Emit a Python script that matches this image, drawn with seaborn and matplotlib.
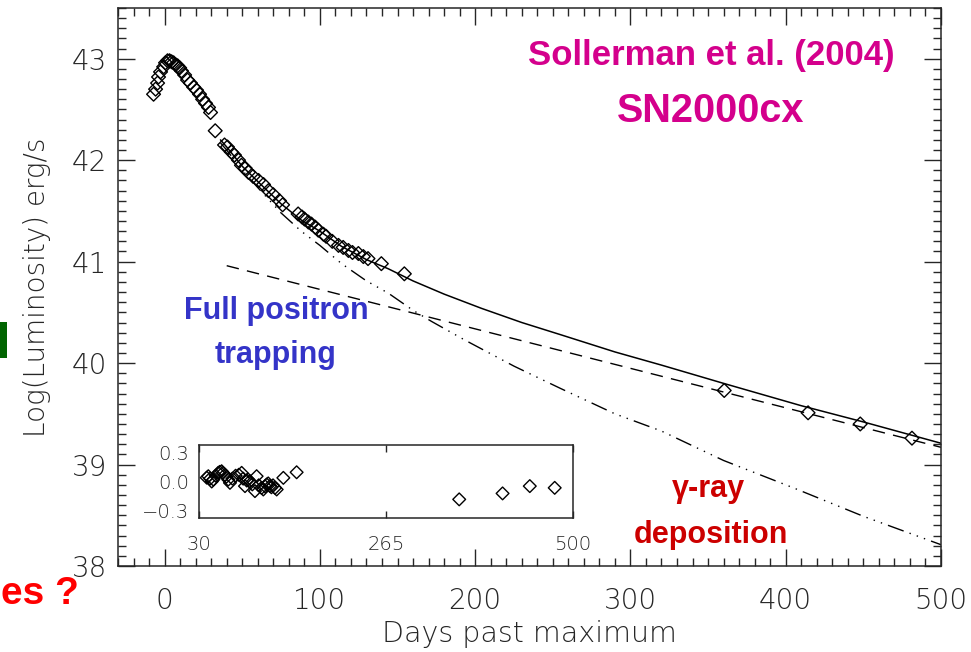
import matplotlib
matplotlib.use("Agg")
import matplotlib.pyplot as plt
from matplotlib.ticker import MultipleLocator
from matplotlib.patches import Rectangle
import seaborn as sns

# ---- SN2000cx bolometric light curve (days past maximum, log L [erg/s]) ----
obs_days = [-7.1, -5.8, -4.5, -3.9, -2.6, -0.6, 0.6, 1.9, 3.2, 4.5, 5.8, 7.1, 8.4,
            9.7, 10.9, 12.9, 14.8, 16.7, 18.7, 20.6, 22.5, 24.5, 26.4, 28.3, 29.6,
            32.6, 38.6, 40.5, 43.0, 45.0, 47.6, 49.5, 52.0, 54.0, 57.0, 60.5, 63.7,
            66.9, 70.0, 74.0, 76.0, 86.0, 88.5, 90.1, 92.6, 94.6, 97.0, 99.0, 102.3,
            104.0, 108.0, 112.0, 115.0, 118.4, 121.0, 124.8, 128.0, 131.0, 139.6,
            154.4, 360.4, 414.4, 448.0, 481.3]
obs_logL = [42.65, 42.70, 42.76, 42.82, 42.87, 42.92, 42.96, 42.98, 42.98, 42.97,
            42.96, 42.94, 42.93, 42.91, 42.88, 42.84, 42.79, 42.76, 42.72, 42.69,
            42.65, 42.60, 42.56, 42.52, 42.47, 42.29, 42.15, 42.13, 42.08, 42.05,
            42.00, 41.95, 41.92, 41.88, 41.84, 41.80, 41.76, 41.70, 41.66, 41.60,
            41.56, 41.47, 41.44, 41.42, 41.39, 41.37, 41.34, 41.31, 41.27, 41.25,
            41.20, 41.16, 41.14, 41.11, 41.09, 41.08, 41.05, 41.03, 40.98, 40.88,
            39.73, 39.51, 39.40, 39.26]

# total model luminosity (solid)
total_days = [36, 40, 50, 60, 75, 88, 100, 114, 130, 144, 160, 180, 204, 230, 255,
              290, 320, 360, 410, 450, 500]
total_logL = [42.20, 42.13, 41.94, 41.79, 41.57, 41.41, 41.30, 41.15, 41.02, 40.93,
              40.81, 40.68, 40.54, 40.40, 40.28, 40.11, 39.98, 39.80, 39.58, 39.42,
              39.21]

# gamma-ray deposition (dash-dot-dot-dot)
gamma_days = [36, 40, 50, 60, 75, 88, 100, 114, 130, 144, 160, 172, 193, 225, 255,
              290, 320, 360, 405, 450, 500]
gamma_logL = [42.17, 42.10, 41.90, 41.73, 41.48, 41.30, 41.16, 40.98, 40.81, 40.69,
              40.52, 40.41, 40.23, 39.97, 39.75, 39.50, 39.33, 39.04, 38.77, 38.49,
              38.21]

# full positron trapping (dashed)
pos_days = [40, 500]
pos_logL = [40.96, 39.17]

# residuals for the inset
res_days = [39.7, 41.7, 44, 46, 48, 51, 54.2, 56, 58.4, 60, 62.6, 64.5, 66.8, 68.9,
            72, 76, 80, 83.6, 85.5, 87.8, 90, 91.9, 94, 97, 100.3, 102.4, 105, 108.7,
            110.8, 113, 115, 117, 119.2, 121, 123, 125.5, 127.6, 136, 152.7, 357,
            411.5, 445.7, 477]
res_vals = [0.04, 0.055, 0.03, 0.0, 0.02, 0.06, 0.09, 0.10, 0.107, 0.09, 0.07, 0.05,
            0.02, -0.014, 0.03, 0.06, 0.07, 0.09, 0.03, -0.048, 0.01, 0.02, 0.003,
            -0.03, -0.10, 0.055, -0.04, -0.066, -0.083, -0.05, -0.031, -0.02, -0.048,
            -0.06, -0.04, -0.066, -0.083, 0.038, 0.096, -0.186, -0.124, -0.048, -0.066]

main_xticks = [0, 100, 200, 300, 400, 500]
main_yticks = [38, 39, 40, 41, 42, 43]
inset_xticks = [30, 265, 500]
inset_yticks = [-0.3, 0.0, 0.3]

W, H = 971, 652
sns.set_style("ticks")
plt.rcParams["font.family"] = ["DejaVu Sans"]
plt.rcParams["axes.linewidth"] = 1.1

INK = "#262626"
MAG = "#D4008C"
BLUE = "#3434C8"
DRED = "#CC0000"
NARROW = ["Liberation Sans Narrow", "Liberation Sans", "DejaVu Sans"]
THIN = dict(family=["DejaVu Sans"], fontweight=200)

fig = plt.figure(figsize=(W / 100, H / 100), dpi=100)


def fx(px):
    return px / W


def fy(py):
    return 1 - py / H


ax = fig.add_axes([fx(118), fy(566), fx(941) - fx(118), fy(8) - fy(566)])

sns.lineplot(x=total_days, y=total_logL, ax=ax, color="black", lw=1.1,
             sort=False, estimator=None)
sns.lineplot(x=gamma_days, y=gamma_logL, ax=ax, color="black", lw=1.0,
             sort=False, estimator=None,
             linestyle=(0, (12, 4.5, 1, 4.5, 1, 4.5, 1, 4.5)))
sns.lineplot(x=pos_days, y=pos_logL, ax=ax, color="black", lw=1.0,
             sort=False, estimator=None, linestyle=(0, (9, 6)))
sns.scatterplot(x=obs_days, y=obs_logL, ax=ax, marker="D", s=49,
                facecolor="none", edgecolor="black", linewidth=1.0, zorder=5)

ax.set_xlim(-30, 500)
ax.set_ylim(38, 43.5)
ax.set_xticks(main_xticks)
ax.set_yticks(main_yticks)
ax.xaxis.set_minor_locator(MultipleLocator(10))
ax.yaxis.set_minor_locator(MultipleLocator(0.1))
ax.tick_params(which="both", direction="in", top=True, right=True, color=INK,
               width=1.0)
ax.tick_params(which="major", length=12)
ax.tick_params(which="minor", length=5.5)
ax.tick_params(axis="x", which="major", pad=15, labelsize=20, labelcolor=INK)
ax.tick_params(axis="y", which="major", pad=8, labelsize=20, labelcolor=INK)
for lab in ax.get_xticklabels() + ax.get_yticklabels():
    lab.set_fontweight(200)
for sp in ax.spines.values():
    sp.set_color(INK)

ax.set_xlabel("Days past maximum", fontsize=20.5, color=INK, **THIN)
ax.set_ylabel("Log(Luminosity) erg/s", fontsize=20, color=INK, **THIN)
ax.xaxis.set_label_coords(0.5, -0.097)
ax.yaxis.set_label_coords(-0.082, 0.5)

# residual inset
axin = fig.add_axes([fx(199), fy(518), fx(573) - fx(199), fy(445) - fy(518)])
sns.scatterplot(x=res_days, y=res_vals, ax=axin, marker="D", s=42,
                facecolor="none", edgecolor="black", linewidth=1.0, zorder=5)
axin.set_xlim(30, 500)
axin.set_ylim(-0.38, 0.38)
axin.set_xticks(inset_xticks)
axin.set_xticklabels([str(v) for v in inset_xticks])
axin.set_yticks(inset_yticks)
axin.set_yticklabels(["\u22120.3", "0.0", "0.3"])
axin.set_yticks([0.0], minor=True)
axin.tick_params(axis="x", which="major", direction="in", top=True, length=5,
                 width=1.0, color=INK, pad=12, labelsize=14, labelcolor=INK)
axin.tick_params(axis="y", which="major", length=0, pad=7, labelsize=14,
                 labelcolor=INK)
axin.tick_params(axis="y", which="minor", direction="in", right=True, length=6,
                 width=1.0, color=INK)
for lab in axin.get_xticklabels() + axin.get_yticklabels():
    lab.set_fontweight(200)
for sp in axin.spines.values():
    sp.set_color(INK)
    sp.set_linewidth(1.1)
axin.set_xlabel("")
axin.set_ylabel("")

# annotations
fig.text(fx(711), fy(65), "Sollerman et al. (2004)", ha="center", va="baseline",
         fontsize=25, fontweight="bold", color=MAG, family=NARROW)
fig.text(fx(711), fy(122), "SN2000cx", ha="center", va="baseline",
         fontsize=28.5, fontweight="bold", color=MAG, family=NARROW)
fig.text(fx(276), fy(319), "Full positron", ha="center", va="baseline",
         fontsize=22, fontweight="bold", color=BLUE, family=NARROW)
fig.text(fx(276), fy(363), "trapping", ha="center", va="baseline",
         fontsize=22, fontweight="bold", color=BLUE, family=NARROW)
fig.text(fx(708), fy(497), "\u03b3-ray", ha="center", va="baseline",
         fontsize=22, fontweight="bold", color=DRED, family=NARROW)
fig.text(fx(711), fy(543), "deposition", ha="center", va="baseline",
         fontsize=22, fontweight="bold", color=DRED, family=NARROW)
fig.text(fx(1), fy(604), "es ?", ha="left", va="baseline",
         fontsize=28, fontweight="bold", color="#FF0000", family=NARROW)
fig.patches.append(Rectangle((0, fy(358)), fx(7), fy(322) - fy(358),
                             transform=fig.transFigure, facecolor="#006400",
                             edgecolor="none"))

fig.savefig("out.png", dpi=100)
